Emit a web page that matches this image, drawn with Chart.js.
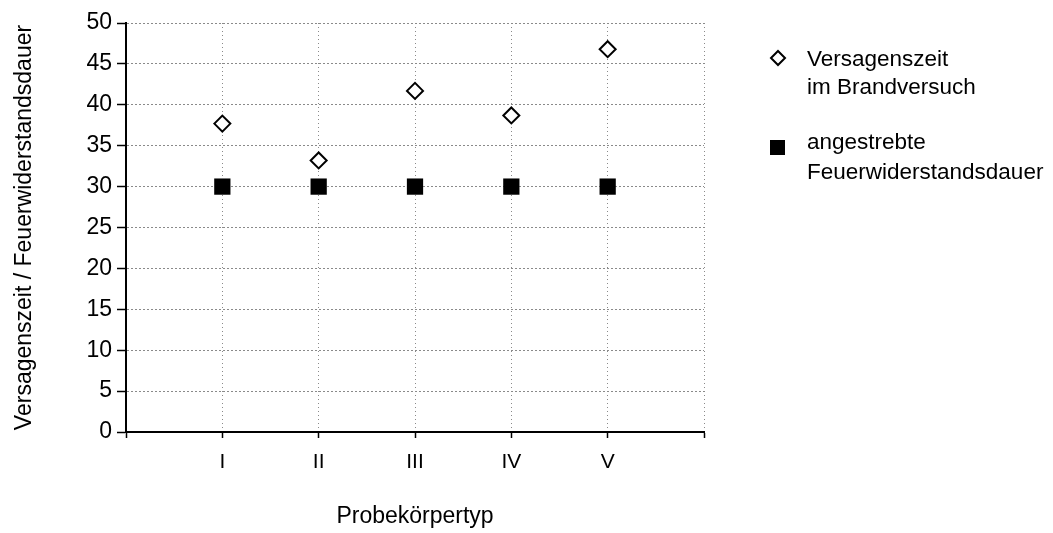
<!DOCTYPE html>
<html>
<head>
<meta charset="utf-8">
<script src="https://cdn.jsdelivr.net/npm/chart.js@4/dist/chart.umd.min.js"></script>
<style>
  html, body { margin: 0; padding: 0; background: #fff; }
  #chart { display: block; }
</style>
</head>
<body>
<canvas id="chart" width="1053" height="533"></canvas>
<script>
// data
const categories = ["I", "II", "III", "IV", "V"];
const versagenszeit = [37.7, 33.2, 41.7, 38.7, 46.8];
const angestrebt = [30, 30, 30, 30, 30];
const seriesNames = [["Versagenszeit", "im Brandversuch"], ["angestrebte", "Feuerwiderstandsdauer"]];

const FONT = "'Liberation Sans', Arial, sans-serif";

const toPoints = (vals) => vals.map((v, i) => ({ x: i + 1, y: v }));

// legend drawn by hand so the labels can wrap onto two lines
const sideLegend = {
  id: "sideLegend",
  afterDraw(chart) {
    const ctx = chart.ctx;
    ctx.save();
    ctx.font = "22.5px " + FONT;
    ctx.textBaseline = "middle";
    ctx.textAlign = "left";

    // diamond
    ctx.beginPath();
    ctx.moveTo(778, 51);
    ctx.lineTo(785, 58);
    ctx.lineTo(778, 65);
    ctx.lineTo(771, 58);
    ctx.closePath();
    ctx.fillStyle = "#fff";
    ctx.fill();
    ctx.lineWidth = 2;
    ctx.strokeStyle = "#000";
    ctx.stroke();

    ctx.fillStyle = "#000";
    ctx.fillText(seriesNames[0][0], 807, 60);
    ctx.fillText(seriesNames[0][1], 807, 88);

    // square
    ctx.fillRect(770, 140, 15, 15);
    ctx.fillText(seriesNames[1][0], 807, 143);
    ctx.fillText(seriesNames[1][1], 807, 173);
    ctx.restore();
  }
};

new Chart(document.getElementById("chart"), {
  type: "scatter",
  data: {
    datasets: [
      {
        label: seriesNames[0].join(" "),
        data: toPoints(versagenszeit),
        pointStyle: "rectRot",
        pointRadius: 8,
        pointHoverRadius: 8,
        pointBackgroundColor: "#fff",
        pointBorderColor: "#000",
        pointBorderWidth: 2,
        showLine: false,
      },
      {
        label: seriesNames[1].join(" "),
        data: toPoints(angestrebt),
        pointStyle: "rect",
        pointRadius: 11.5,
        pointHoverRadius: 11.5,
        pointBackgroundColor: "#000",
        pointBorderColor: "#000",
        pointBorderWidth: 0,
        showLine: false,
      },
    ],
  },
  options: {
    responsive: false,
    animation: false,
    events: [],
    layout: { padding: { top: 23, right: 349, left: 0, bottom: 0 } },
    plugins: {
      legend: { display: false },
      tooltip: { enabled: false },
    },
    scales: {
      x: {
        type: "linear",
        min: 0,
        max: 6,
        afterFit: (scale) => { scale.height = 101; },
        afterBuildTicks: (scale) => {
          scale.ticks = [0, 1, 2, 3, 4, 5, 6].map((v) => ({ value: v }));
        },
        ticks: {
          autoSkip: false,
          maxRotation: 0,
          padding: 12,
          color: "#000",
          font: { family: FONT, size: 21 },
          callback: (v) => categories[v - 1] || "",
        },
        grid: {
          color: "#8a8a8a",
          lineWidth: 1,
          tickColor: "#000",
          tickLength: 6,
          tickWidth: 1.5,
        },
        border: { color: "#000", width: 2, dash: [1, 3] },
        title: {
          display: true,
          text: "Probekörpertyp",
          color: "#000",
          font: { family: FONT, size: 23 },
          padding: { top: 0, bottom: 3 },
        },
      },
      y: {
        min: 0,
        max: 50,
        afterFit: (scale) => { scale.width = 126; },
        ticks: {
          stepSize: 5,
          padding: 5,
          color: "#000",
          font: { family: FONT, size: 23 },
        },
        grid: {
          color: "#8a8a8a",
          lineWidth: 1,
          tickColor: "#000",
          tickLength: 9,
          tickWidth: 1.5,
        },
        border: { color: "#000", width: 2, dash: [2, 2] },
        title: {
          display: true,
          text: "Versagenszeit / Feuerwiderstandsdauer",
          color: "#000",
          font: { family: FONT, size: 23 },
          padding: { top: 11, bottom: 0 },
        },
      },
    },
  },
  plugins: [sideLegend],
});
</script>
</body>
</html>
